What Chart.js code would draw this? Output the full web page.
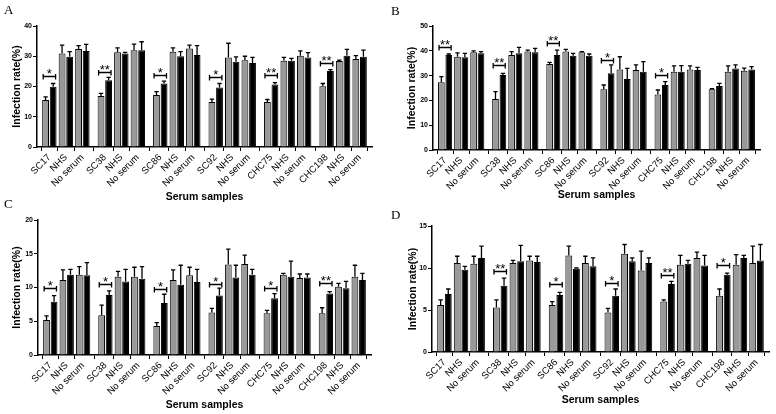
<!DOCTYPE html>
<html>
<head>
<meta charset="utf-8">
<script src="https://cdn.jsdelivr.net/npm/chart.js@4.4.1/dist/chart.umd.min.js"></script>
<style>
  body { margin: 0; background: #fff; }
  #wrap { position: relative; width: 776px; height: 414px; overflow: hidden; background: #fff; }
  #wrap canvas { position: absolute; }
  .tag { position: absolute; font-family: 'Liberation Serif', 'Times New Roman', serif; font-size: 13px; line-height: 13px; color: #000; }
</style>
</head>
<body>
<div id="wrap">
  <canvas id="chartA" width="388" height="207" style="left:0;top:0"></canvas>
  <canvas id="chartB" width="388" height="207" style="left:388px;top:0"></canvas>
  <canvas id="chartC" width="388" height="207" style="left:0;top:207px"></canvas>
  <canvas id="chartD" width="388" height="207" style="left:388px;top:207px"></canvas>
  <div class="tag" style="left:4px;top:3px">A</div>
  <div class="tag" style="left:391px;top:4px">B</div>
  <div class="tag" style="left:4px;top:197px">C</div>
  <div class="tag" style="left:391px;top:208px">D</div>
</div>
<script>
// 카테고리 (6개 혈청 그룹 x [샘플, NHS, No serum])
const GROUP_NAMES = ['SC17', 'SC38', 'SC86', 'SC92', 'CHC75', 'CHC198'];
const CONTROL_NAMES = ['NHS', 'No serum'];
const categoryLabels = GROUP_NAMES.flatMap(name => [name, ...CONTROL_NAMES]);

// Panel A
const aYTicks = [0, 10, 20, 30, 40];
const aGray = [15.5, 30.9, 32.4, 16.9, 31.3, 32.0, 17.2, 31.5, 32.6, 14.9, 29.6, 28.7, 14.9, 28.5, 30.2, 20.1, 28.4, 29.1];
const aGrayErr = [1.1, 2.8, 1.1, 0.8, 1.5, 2.0, 1.1, 1.3, 1.1, 0.9, 4.7, 1.3, 0.8, 1.1, 1.6, 0.9, 0.3, 1.1];
const aBlack = [19.9, 29.8, 31.7, 22.1, 30.9, 32.0, 21.0, 30.0, 30.4, 19.7, 28.2, 27.8, 20.7, 28.5, 29.6, 25.1, 30.2, 29.8];
const aBlackErr = [1.1, 1.7, 2.2, 0.9, 0.4, 2.8, 0.8, 1.5, 3.1, 1.3, 1.6, 1.8, 0.6, 0.8, 1.6, 0.5, 2.1, 2.2];
const aSigLevel = [23.4, 24.9, 23.8, 23.1, 23.7, 27.9];
const aSigMark = ['*', '**', '*', '*', '**', '**'];

// Panel B
const bYTicks = [0, 10, 20, 30, 40, 50];
const bGray = [27.3, 37.6, 39.4, 20.6, 38.3, 39.7, 34.7, 39.7, 39.4, 24.5, 32.5, 32.3, 22.4, 31.6, 32.5, 24.5, 31.6, 32.0];
const bGrayErr = [2.3, 1.6, 0.6, 2.9, 1.4, 0.6, 0.6, 0.9, 0.3, 1.7, 5.1, 2.0, 1.8, 2.3, 1.4, 0.2, 2.3, 1.0];
const bBlack = [38.3, 37.4, 39.0, 30.2, 39.0, 39.4, 38.3, 38.0, 38.0, 30.9, 28.6, 31.6, 26.2, 31.6, 32.3, 25.8, 32.9, 32.5];
const bBlackErr = [0.4, 1.6, 0.7, 0.7, 2.4, 1.6, 2.0, 1.0, 0.7, 3.4, 4.3, 4.0, 1.4, 2.4, 1.0, 1.1, 1.4, 1.1];
const bSigLevel = [41.7, 34.3, 43.3, 36.3, 30.2, null];
const bSigMark = ['**', '**', '**', '*', '*', null];

// Panel C
const cYTicks = [0, 5, 10, 15, 20];
const cGray = [5.2, 11.1, 11.9, 5.9, 11.6, 11.6, 4.3, 11.1, 11.8, 6.3, 13.4, 13.5, 6.2, 11.9, 11.4, 6.2, 10.1, 11.6];
const cGrayErr = [0.6, 1.5, 1.2, 1.5, 0.8, 1.4, 0.5, 1.5, 1.2, 0.6, 2.3, 1.3, 0.4, 0.2, 0.6, 0.8, 0.5, 1.7];
const cBlack = [7.9, 11.9, 11.8, 8.9, 10.9, 11.3, 7.7, 10.4, 10.8, 8.8, 11.5, 11.9, 8.4, 11.6, 11.5, 9.1, 9.9, 11.1];
const cBlackErr = [0.9, 0.8, 1.9, 0.6, 1.8, 1.8, 1.3, 2.9, 1.9, 1.1, 1.8, 0.8, 0.7, 2.3, 0.5, 0.3, 1.0, 1.0];
const cSigLevel = [9.9, 10.5, 9.8, 10.5, 9.9, 10.7];
const cSigMark = ['*', '*', '*', '*', '*', '**'];

// Panel D
const dYTicks = [0, 5, 10, 15];
const dGray = [5.6, 10.6, 10.5, 5.3, 10.6, 10.9, 5.6, 11.5, 10.6, 4.7, 11.7, 9.7, 6.0, 10.4, 11.2, 6.7, 10.4, 10.6];
const dGrayErr = [0.6, 0.8, 0.9, 0.9, 0.3, 0.5, 0.4, 1.1, 0.8, 0.5, 1.1, 2.3, 0.2, 1.1, 0.7, 0.8, 1.2, 2.0];
const dBlack = [6.9, 9.8, 11.2, 7.9, 10.8, 10.7, 6.8, 9.9, 10.2, 6.7, 10.8, 10.6, 8.1, 10.5, 10.3, 9.2, 11.2, 10.9];
const dBlackErr = [0.6, 0.4, 1.4, 0.9, 1.9, 0.7, 0.3, 0.1, 1.0, 0.8, 0.4, 0.6, 0.3, 0.4, 1.2, 0.2, 0.3, 1.9];
const dSigLevel = [null, 9.6, 8.1, 8.2, 9.2, 10.3];
const dSigMark = [null, '**', '*', '*', '**', '*'];

// x축 위치: 그룹 사이에 약간의 간격
const GROUP_STEP = 3.36;
const positions = categoryLabels.map((_, k) => Math.floor(k / 3) * GROUP_STEP + (k % 3));
const X_PAD = 0.75;

const FONT = "Arial, 'Liberation Sans', sans-serif";
const CANVAS_H = 207;

// 에러바 + 유의성 브래킷
const markPlugin = {
  id: 'marks',
  afterDatasetsDraw(chart, args, opts) {
    const ctx = chart.ctx;
    const yScale = chart.scales.y;
    ctx.save();
    ctx.strokeStyle = '#000';
    ctx.lineWidth = 1.3;

    chart.data.datasets.forEach((ds, d) => {
      const meta = chart.getDatasetMeta(d);
      meta.data.forEach((bar, i) => {
        const top = yScale.getPixelForValue(ds.data[i].y + ds.errors[i]);
        const cap = bar.width * 0.32;
        ctx.beginPath();
        ctx.moveTo(bar.x, bar.y);
        ctx.lineTo(bar.x, top);
        ctx.moveTo(bar.x - cap, top);
        ctx.lineTo(bar.x + cap, top);
        ctx.stroke();
      });
    });

    const grayMeta = chart.getDatasetMeta(0);
    const blackMeta = chart.getDatasetMeta(1);
    ctx.fillStyle = '#000';
    ctx.textAlign = 'center';
    ctx.textBaseline = 'alphabetic';
    ctx.font = `13px ${FONT}`;
    opts.levels.forEach((level, g) => {
      if (level == null) return;
      const gray = grayMeta.data[g * 3];
      const black = blackMeta.data[g * 3];
      const x1 = gray.x - gray.width / 2 + 1;
      const x2 = black.x + black.width / 2 - 1;
      const y = Math.round(yScale.getPixelForValue(level)) + 0.5;
      ctx.beginPath();
      ctx.moveTo(x1, y);
      ctx.lineTo(x2, y);
      ctx.moveTo(x1, y - 2.5);
      ctx.lineTo(x1, y + 3);
      ctx.moveTo(x2, y - 2.5);
      ctx.lineTo(x2, y + 3);
      ctx.stroke();
      // 별표는 선 위쪽에
      ctx.fillText(opts.marks[g], (x1 + x2) / 2, y + 1.5);
    });
    ctx.restore();
  },
};

function buildPanel(canvasId, s, box) {
  const canvas = document.getElementById(canvasId);
  const toPoints = arr => arr.map((v, k) => ({ x: positions[k], y: v }));
  const yTicks = s.yTicks;

  return new Chart(canvas, {
    type: 'bar',
    data: {
      datasets: [
        {
          data: toPoints(s.gray),
          errors: s.grayErr,
          backgroundColor: '#999999',
          borderColor: '#000',
          borderWidth: 1,
        },
        {
          data: toPoints(s.black),
          errors: s.blackErr,
          backgroundColor: '#000',
          borderColor: '#000',
          borderWidth: 1,
        },
      ],
    },
    options: {
      responsive: false,
      devicePixelRatio: 1,
      animation: false,
      categoryPercentage: 0.92,
      barPercentage: 0.9,
      layout: { padding: { left: 4, top: box.top, right: 388 - box.right, bottom: 0 } },
      plugins: {
        legend: { display: false },
        tooltip: { enabled: false },
        marks: { levels: s.sigLevel, marks: s.sigMark },
      },
      scales: {
        x: {
          type: 'linear',
          offset: false,
          min: positions[0] - X_PAD,
          max: positions[positions.length - 1] + X_PAD,
          afterBuildTicks: scale => { scale.ticks = positions.map(v => ({ value: v })); },
          afterFit: scale => { scale.height = CANVAS_H - box.bottom; },
          ticks: {
            autoSkip: false,
            minRotation: 45,
            maxRotation: 45,
            padding: 1,
            color: '#000',
            font: { family: FONT, size: 9.5 },
            callback: (v, k) => categoryLabels[k],
          },
          grid: { drawOnChartArea: false, tickLength: 4, color: '#000', lineWidth: 1 },
          border: { color: '#000', width: 1.5 },
          title: {
            display: true,
            text: 'Serum samples',
            color: '#000',
            font: { family: FONT, size: 10.5, weight: 'bold' },
            padding: { top: 0, bottom: box.xTitlePad },
          },
        },
        y: {
          min: yTicks[0],
          max: yTicks[yTicks.length - 1],
          afterFit: scale => { scale.width = box.left - 4; },
          ticks: {
            stepSize: yTicks[1] - yTicks[0],
            padding: 1,
            color: '#000',
            font: { family: FONT, size: 7, weight: 'bold' },
          },
          grid: { drawOnChartArea: false, tickLength: 4, color: '#000', lineWidth: 1 },
          border: { color: '#000', width: 1.5 },
          title: {
            display: true,
            text: 'Infection rate(%)',
            color: '#000',
            font: { family: FONT, size: 10.5, weight: 'bold' },
            padding: { top: box.yTitlePad, bottom: 0 },
          },
        },
      },
    },
    plugins: [markPlugin],
  });
}

buildPanel('chartA',
  { yTicks: aYTicks, gray: aGray, grayErr: aGrayErr, black: aBlack, blackErr: aBlackErr, sigLevel: aSigLevel, sigMark: aSigMark },
  { left: 37, right: 372, top: 26, bottom: 147, yTitlePad: 7, xTitlePad: 4 });
buildPanel('chartB',
  { yTicks: bYTicks, gray: bGray, grayErr: bGrayErr, black: bBlack, blackErr: bBlackErr, sigLevel: bSigLevel, sigMark: bSigMark },
  { left: 45, right: 372, top: 26, bottom: 150, yTitlePad: 14, xTitlePad: 6 });
buildPanel('chartC',
  { yTicks: cYTicks, gray: cGray, grayErr: cGrayErr, black: cBlack, blackErr: cBlackErr, sigLevel: cSigLevel, sigMark: cSigMark },
  { left: 38, right: 371, top: 13, bottom: 148, yTitlePad: 7, xTitlePad: 3 });
buildPanel('chartD',
  { yTicks: dYTicks, gray: dGray, grayErr: dGrayErr, black: dBlack, blackErr: dBlackErr, sigLevel: dSigLevel, sigMark: dSigMark },
  { left: 44, right: 381, top: 19, bottom: 145, yTitlePad: 15, xTitlePad: 8 });
</script>
</body>
</html>
